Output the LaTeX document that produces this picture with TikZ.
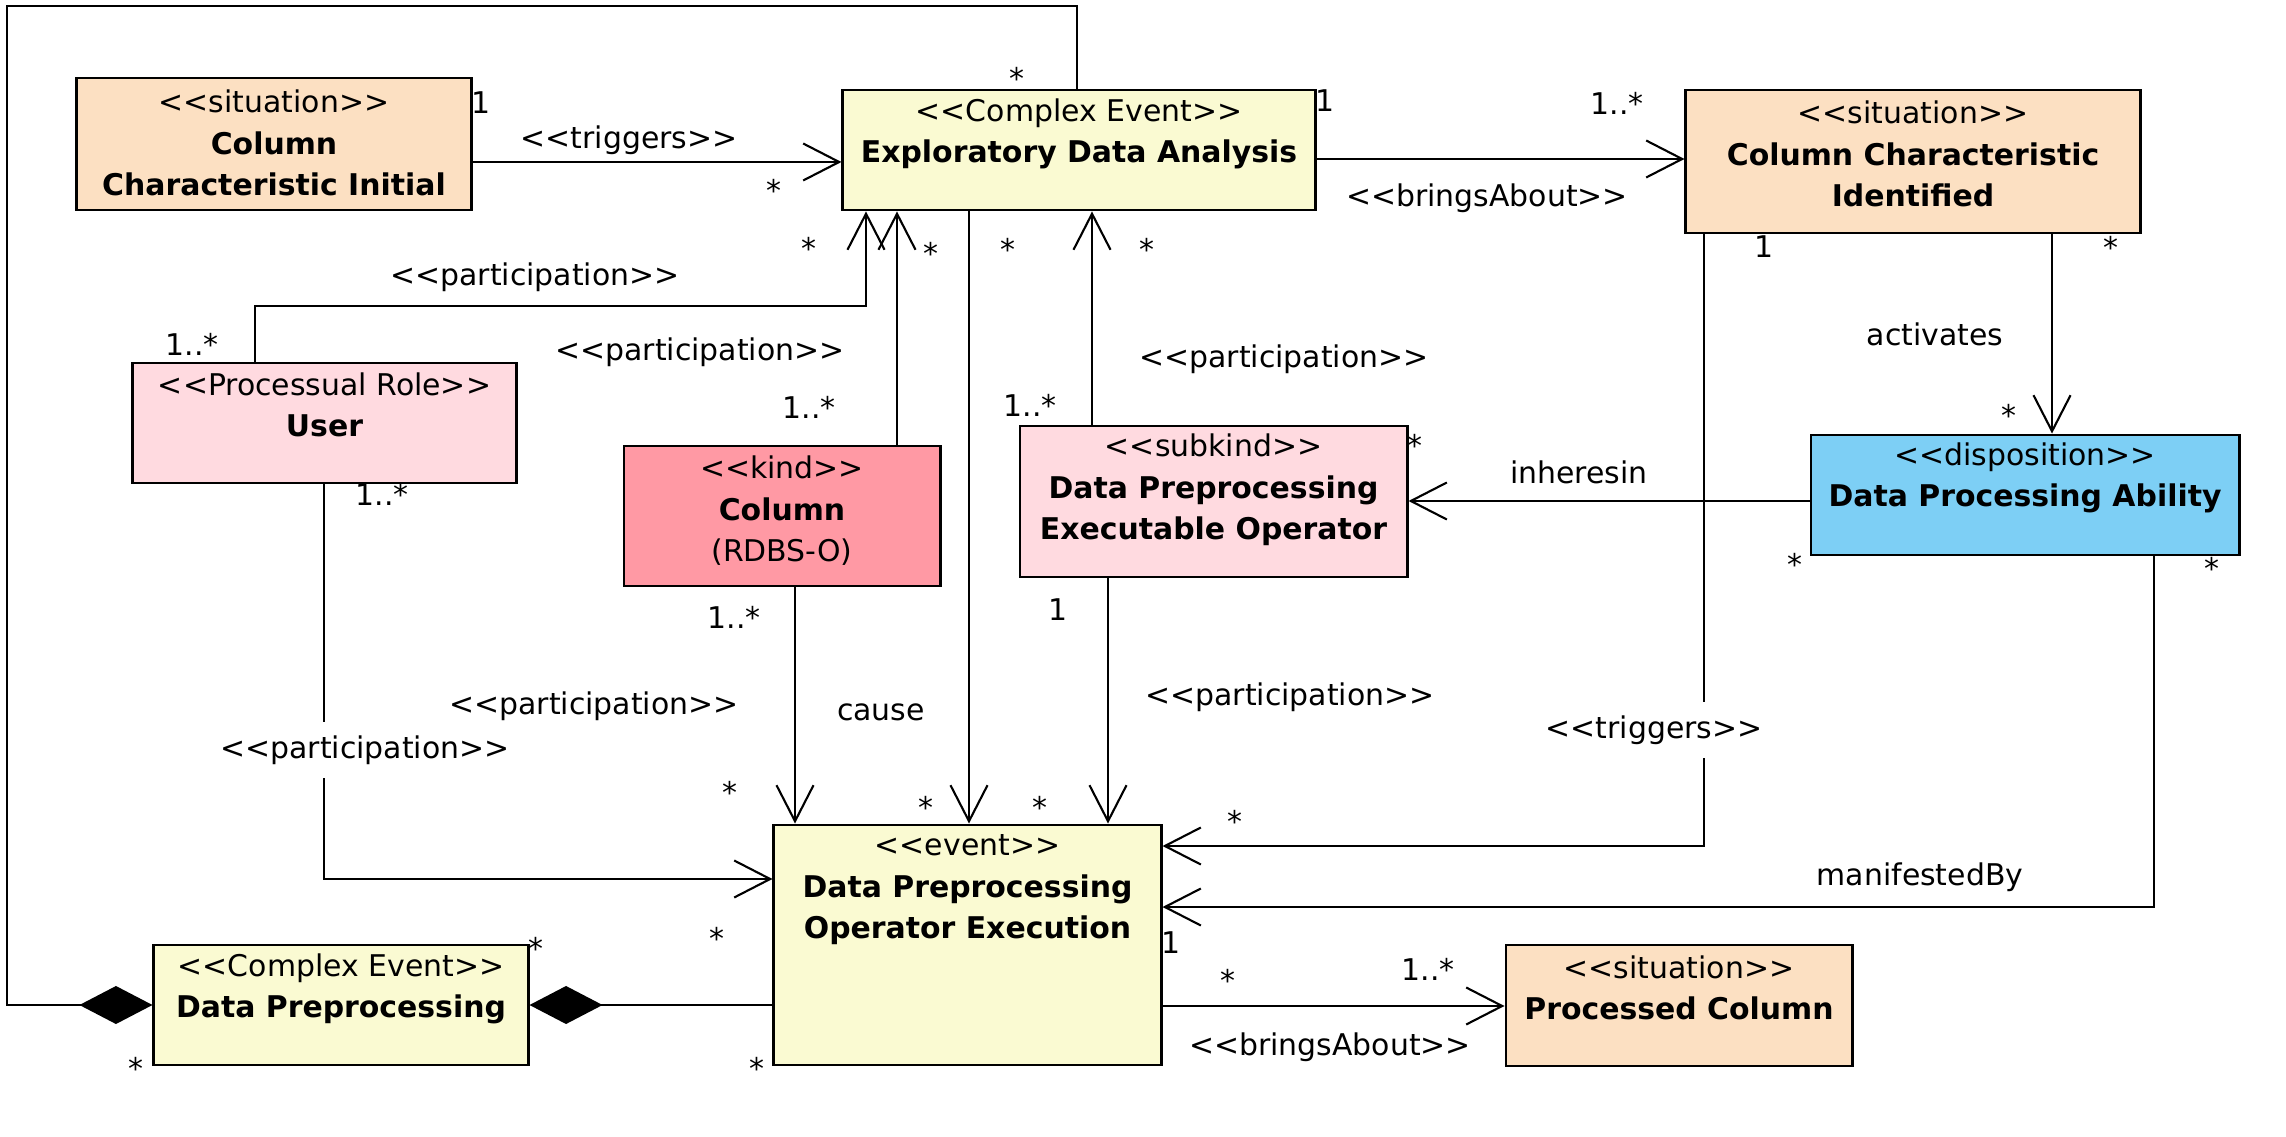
\documentclass[tikz,border=0pt]{standalone}
\usepackage{fontspec}
\setmainfont{DejaVu Sans}[Ligatures=TeXOff]
\usetikzlibrary{arrows.meta}
\definecolor{sitc}{RGB}{252,224,194}
\definecolor{evc}{RGB}{250,250,210}
\definecolor{pinkc}{RGB}{255,218,224}
\definecolor{kindc}{RGB}{255,153,164}
\definecolor{dispc}{RGB}{125,207,245}
\begin{document}
\begin{tikzpicture}[x=0.01cm, y=-0.01cm,
  box/.style={draw, line width=0.8pt, inner sep=0pt},
  txt/.style={font=\fontsize{8.5}{11.8}\selectfont, align=center, inner sep=0pt},
  lbl/.style={font=\fontsize{8.5}{11.8}\selectfont, inner sep=0pt, text height=0.75em, text depth=0.25em},
  star/.style={lbl, yshift=-3pt},
  wlbl/.style={lbl, fill=white, inner xsep=1pt, inner ysep=3pt},
  conn/.style={line width=0.6pt},
  arr/.style={conn, -{Straight Barb[length=0.36cm, width=0.37cm, line width=0.6pt]}},
  comp/.style={conn, {Diamond[fill=black, length=0.73cm, width=0.38cm]}-},
]
\useasboundingbox (0,0) rectangle (2286,1137);

% boxes
\node[box, fill=sitc, minimum width=3.94cm, minimum height=1.32cm] (cci) at (274,144) {};
\node[txt] (cci-t) at (274,143) {<<situation>>\\\textbf{Column}\\\textbf{Characteristic Initial}};

\node[box, fill=evc, minimum width=4.72cm, minimum height=1.20cm] (eda) at (1079,150) {};
\node[txt] (eda-t) at (1079,134) {<<Complex Event>>\\\textbf{Exploratory Data Analysis}};

\node[box, fill=sitc, minimum width=4.54cm, minimum height=1.43cm] (ccid) at (1913,161.5) {};
\node[txt] (ccid-t) at (1913,154) {<<situation>>\\\textbf{Column Characteristic}\\\textbf{Identified}};

\node[box, fill=pinkc, minimum width=3.83cm, minimum height=1.20cm] (user) at (324.5,423) {};
\node[txt] (user-t) at (324.5,405) {<<Processual Role>>\\\textbf{User}};

\node[box, fill=kindc, minimum width=3.16cm, minimum height=1.40cm] (col) at (782,516) {};
\node[txt] (col-t) at (782,511) {<<kind>>\\\textbf{Column}\\(RDBS-O)};

\node[box, fill=pinkc, minimum width=3.87cm, minimum height=1.51cm] (dpeo) at (1213.5,501.5) {};
\node[txt] (dpeo-t) at (1213.5,490) {<<subkind>>\\\textbf{Data Preprocessing}\\\textbf{Executable Operator}};

\node[box, fill=dispc, minimum width=4.28cm, minimum height=1.20cm] (dpa) at (2025,495) {};
\node[txt] (dpa-t) at (2025,478) {<<disposition>>\\\textbf{Data Processing Ability}};

\node[box, fill=evc, minimum width=3.87cm, minimum height=2.40cm] (dpoe) at (967.5,945) {};
\node[txt] (dpoe-t) at (967.5,890) {<<event>>\\\textbf{Data Preprocessing}\\\textbf{Operator Execution}};

\node[box, fill=evc, minimum width=3.74cm, minimum height=1.20cm] (dp) at (341,1005) {};
\node[txt] (dp-t) at (341,989) {<<Complex Event>>\\\textbf{Data Preprocessing}};

\node[box, fill=sitc, minimum width=3.46cm, minimum height=1.21cm] (pc) at (1679,1005.5) {};
\node[txt] (pc-t) at (1679,988) {<<situation>>\\\textbf{Processed Column}};

% connectors
\draw[arr] (cci.east |- 0,162) -- (eda.west |- 0,162);
\draw[arr] (eda.east |- 0,159) -- (ccid.west |- 0,159);
\draw[comp] (dp.west) -- (7,1005) -- (7,6) -- (1077,6) -- (eda.north -| 1077,0);
\draw[arr] (user.north -| 255,0) |- (866,306) -- (eda.south -| 866,0);
\draw[arr] (col.north -| 897,0) -- (eda.south -| 897,0);
\draw[arr] (eda.south -| 969,0) -- (dpoe.north -| 969,0);
\draw[arr] (dpeo.north -| 1092,0) -- (eda.south -| 1092,0);
\draw[arr] (user.south -| 324,0) |- (dpoe.west |- 0,879);
\draw[arr] (col.south -| 795,0) -- (dpoe.north -| 795,0);
\draw[arr] (dpeo.south -| 1108,0) -- (dpoe.north -| 1108,0);
\draw[arr] (dpa.west |- 0,501) -- (dpeo.east |- 0,501);
\draw[arr] (ccid.south -| 2052,0) -- (dpa.north -| 2052,0);
\draw[arr] (ccid.south -| 1704,0) |- (dpoe.east |- 0,846);
\draw[arr] (dpa.south -| 2154,0) |- (dpoe.east |- 0,907);
\draw[arr] (dpoe.east |- 0,1006) -- (pc.west |- 0,1006);
\draw[comp] (dp.east) -- (dpoe.west |- dp.east);

% labels
\node[lbl] (l1) at (481,105) {1};
\node[lbl] (l2) at (629,140) {<<triggers>>};
\node[star] (l3) at (774,182) {*};
\node[star] (l4) at (1017,70) {*};
\node[lbl] (l5) at (1325,103) {1};
\node[lbl] (l6) at (1617,106) {1..*};
\node[lbl] (l7) at (1487,198) {<<bringsAbout>>};
\node[star] (l8) at (809,240) {*};
\node[lbl] (l9) at (535,277) {<<participation>>};
\node[lbl] (l10) at (192,347) {1..*};
\node[star] (l11) at (931,245) {*};
\node[star] (l12) at (1008,241) {*};
\node[star] (l13) at (1147,241) {*};
\node[lbl] (l14) at (700,352) {<<participation>>};
\node[lbl] (l15) at (809,410) {1..*};
\node[lbl] (l16) at (1030,408) {1..*};
\node[lbl] (l17) at (1284,359) {<<participation>>};
\node[star] (l18) at (1415,437) {*};
\node[lbl] (l19) at (1579,475) {inheresin};
\node[star] (l20) at (1795,556) {*};
\node[lbl] (l21) at (1764,249) {1};
\node[star] (l22) at (2111,239) {*};
\node[lbl] (l23) at (1935,337) {activates};
\node[star] (l24) at (2009,407) {*};
\node[star] (l25) at (2212,560) {*};
\node[lbl] (l26) at (382,497) {1..*};
\node[lbl] (l27) at (734,620) {1..*};
\node[lbl] (l28) at (1058,612) {1};
\node[lbl] (l29) at (594,706) {<<participation>>};
\node[lbl] (l30) at (881,712) {cause};
\node[lbl] (l31) at (1290,697) {<<participation>>};
\node[wlbl] (l32) at (365,750) {<<participation>>};
\node[wlbl] (l33) at (1654,730) {<<triggers>>};
\node[star] (l34) at (730,784) {*};
\node[star] (l35) at (926,799) {*};
\node[star] (l36) at (1040,799) {*};
\node[star] (l37) at (1235,813) {*};
\node[lbl] (l38) at (1920,877) {manifestedBy};
\node[star] (l39) at (717,930) {*};
\node[star] (l40) at (536,940) {*};
\node[lbl] (l41) at (1171,945) {1};
\node[star] (l42) at (1228,972) {*};
\node[lbl] (l43) at (1428,972) {1..*};
\node[lbl] (l44) at (1330,1047) {<<bringsAbout>>};
\node[star] (l45) at (136,1060) {*};
\node[star] (l46) at (757,1060) {*};
\end{tikzpicture}
\end{document}
